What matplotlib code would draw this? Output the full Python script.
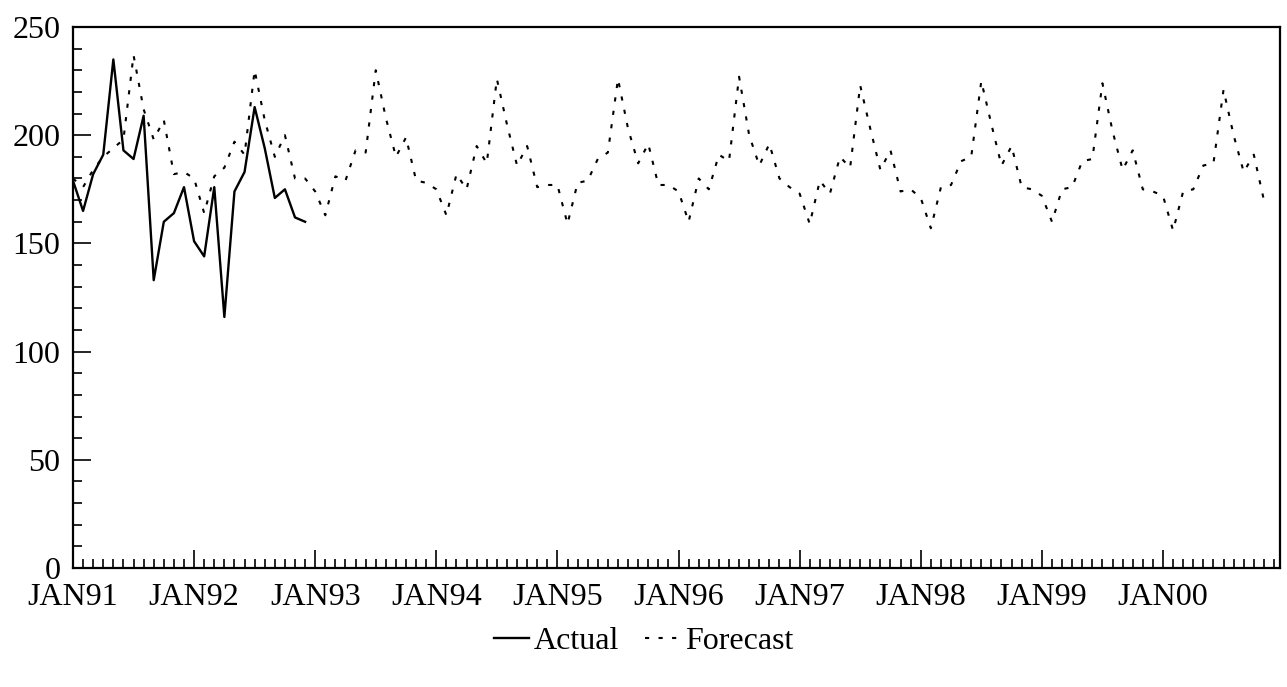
import numpy as np
import matplotlib
matplotlib.use("Agg")
import matplotlib.pyplot as plt
import matplotlib.transforms as mtransforms
from matplotlib.ticker import MultipleLocator

# monthly actuals, Jan91 - Dec92
actual = [179, 165, 182, 191, 235, 193, 189, 209, 133, 160, 164, 176,
          151, 144, 176, 116, 174, 183, 213, 194, 171, 175, 162, 160]

# monthly forecast, one row per year (Jan..Dec), last year ends in Nov
fc_1991 = [180, 176, 184, 190, 194, 198, 237, 212, 198, 207, 182, 183]
fc_1992 = [180, 164, 181, 185, 197, 191, 230, 207, 190, 200, 180, 180]
fc_1993 = [174, 163, 181, 179, 193, 192, 230, 208, 190, 199, 179, 178]
fc_1994 = [175, 163, 182, 175, 195, 187, 226, 205, 186, 195, 176, 177]
fc_1995 = [177, 159, 178, 179, 189, 192, 226, 203, 187, 196, 177, 177]
fc_1996 = [174, 160, 180, 175, 191, 188, 227, 200, 186, 196, 180, 176]
fc_1997 = [173, 159, 179, 173, 190, 185, 223, 203, 184, 193, 174, 175]
fc_1998 = [171, 157, 176, 177, 188, 190, 225, 205, 186, 195, 176, 175]
fc_1999 = [172, 160, 175, 176, 188, 189, 224, 202, 184, 193, 175, 174]
fc_2000 = [172, 156, 174, 175, 186, 187, 221, 200, 183, 191, 170]

years = ['JAN91', 'JAN92', 'JAN93', 'JAN94', 'JAN95', 'JAN96', 'JAN97',
         'JAN98', 'JAN99', 'JAN00']

forecast = (fc_1991 + fc_1992 + fc_1993 + fc_1994 + fc_1995 + fc_1996 +
            fc_1997 + fc_1998 + fc_1999 + fc_2000)

plt.rcParams['font.family'] = ['Liberation Serif', 'DejaVu Serif']

fig = plt.figure(figsize=(12.87, 6.87), dpi=100)
ax = fig.add_axes([0.0567, 0.1732, 0.9379, 0.7875])

x_act = np.arange(len(actual))
x_fc = np.arange(len(forecast))

l1, = ax.plot(x_act, actual, color='black', lw=1.7, label='Actual')
l2, = ax.plot(x_fc, forecast, color='black', lw=1.5,
              linestyle=(0, (2, 4.5)), label='Forecast')

ax.set_xlim(0, 119.6)
ax.set_ylim(0, 250)

ax.set_xticks(np.arange(0, 120, 12))
ax.set_xticklabels(years)
ax.xaxis.set_minor_locator(MultipleLocator(1))
ax.yaxis.set_major_locator(MultipleLocator(50))
ax.yaxis.set_minor_locator(MultipleLocator(10))

ax.tick_params(which='both', direction='in', width=1.2, labelsize=23)
ax.tick_params(which='major', length=13)
ax.tick_params(which='minor', length=6.5)
ax.tick_params(axis='x', which='major', pad=11)
ax.tick_params(axis='y', which='major', pad=9)

for s in ax.spines.values():
    s.set_linewidth(1.6)

# lift the "0" a little so it clears JAN91, as in the original
fig.canvas.draw()
zero = ax.get_yticklabels()[0]
zero.set_transform(zero.get_transform() +
                   mtransforms.ScaledTranslation(-2 / 72, 5 / 72, fig.dpi_scale_trans))

fig.legend([l1, l2], ['Actual', 'Forecast'], loc='center',
           bbox_to_anchor=(0.5, 0.066), ncol=2, frameon=False,
           fontsize=23, handlelength=1.1, handletextpad=0.15,
           columnspacing=0.8)

fig.savefig('out.png', dpi=100)
